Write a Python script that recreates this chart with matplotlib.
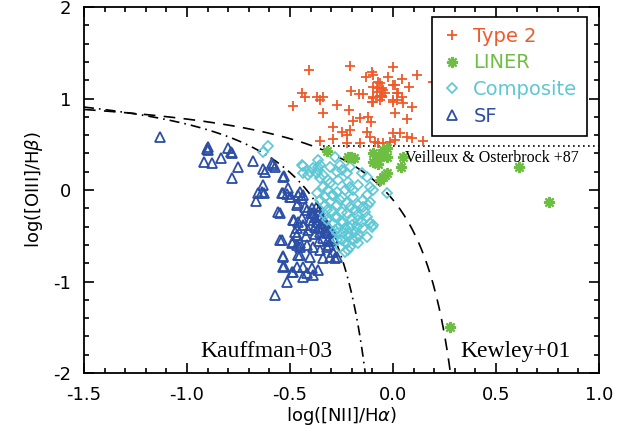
import numpy as np
import matplotlib
matplotlib.use("Agg")
import matplotlib.pyplot as plt
from matplotlib.ticker import MultipleLocator, FormatStrFormatter
from matplotlib.lines import Line2D

# ---------------- data ----------------
type2_x = [-0.408, -0.209, 0.000, -0.102, -0.131, -0.097, 0.117, -0.024, 0.044, 0.194,
           -0.063, 0.000, 0.078, -0.078, -0.049, -0.442, -0.427, -0.485, -0.369, -0.340,
           -0.354, -0.204, -0.165, -0.146, -0.097, -0.053, 0.024, 0.044, 0.019, -0.097,
           -0.063, 0.000, 0.049, 0.092, -0.272, -0.340, -0.214, 0.010, -0.160, -0.121,
           -0.107, -0.194, 0.068, -0.291, -0.248, -0.209, -0.223, -0.126, 0.000, 0.034,
           0.068, 0.092, 0.010, -0.015, -0.354, -0.291, -0.112, -0.087, -0.073, -0.049,
           0.146, -0.223, -0.160, -0.097, -0.073, -0.053, -0.078, -0.039, -0.063, -0.097,
           0.010, 0.019, 0.000, -0.053, -0.102]
type2_y = [1.311, 1.355, 1.344, 1.290, 1.235, 1.257, 1.257, 1.235, 1.213, 1.180,
           1.169, 1.148, 1.126, 1.115, 1.093, 1.060, 1.016, 0.918, 1.016, 1.016,
           0.984, 1.082, 1.049, 1.049, 1.016, 1.016, 1.060, 1.016, 0.984, 0.962,
           0.984, 0.962, 0.951, 0.907, 0.929, 0.842, 0.874, 0.842, 0.787, 0.798,
           0.743, 0.754, 0.776, 0.689, 0.634, 0.656, 0.601, 0.634, 0.623, 0.623,
           0.579, 0.568, 0.546, 0.525, 0.536, 0.557, 0.579, 0.525, 0.514, 0.514,
           0.536, 0.510, 0.514, 1.126, 1.180, 1.115, 1.071, 1.060, 1.027, 1.005,
           1.148, 1.060, 0.984, 1.027, 0.962]

liner_x = [-0.320, -0.218, -0.204, -0.189, -0.097, -0.049, -0.029, -0.063, -0.083, -0.029,
           -0.097, -0.073, 0.049, 0.039, -0.029, -0.049, -0.063, -0.039, 0.612, 0.757, 0.277]
liner_y = [0.426, 0.361, 0.361, 0.350, 0.404, 0.437, 0.459, 0.361, 0.328, 0.361,
           0.306, 0.284, 0.361, 0.251, 0.186, 0.142, 0.109, 0.164, 0.251, -0.131, -1.497]

comp_x = [-0.631, -0.607, -0.282, -0.442, -0.364, -0.354, -0.437, -0.388, -0.364, -0.369,
          -0.340, -0.354, -0.413, -0.272, -0.248, -0.223, -0.150, -0.126, -0.218, -0.209,
          -0.233, -0.194, -0.170, -0.306, -0.340, -0.316, -0.369, -0.330, -0.291, -0.272,
          -0.257, -0.306, -0.272, -0.112, -0.097, -0.126, -0.146, -0.112, -0.121, -0.029,
          -0.209, -0.184, -0.223, -0.175, -0.199, -0.170, -0.243, -0.136, -0.126, -0.150,
          -0.112, -0.102, -0.126, -0.354, -0.330, -0.320, -0.296, -0.330, -0.320, -0.272,
          -0.248, -0.267, -0.233, -0.272, -0.243, -0.209, -0.184, -0.218, -0.175, -0.248,
          -0.223, -0.257, -0.209, -0.233, -0.218, -0.194, -0.170, -0.291, -0.282, -0.272,
          -0.316, -0.267, -0.296, -0.248, -0.194, -0.170, -0.146, -0.223, -0.248, -0.282,
          -0.199, -0.175, -0.146, -0.218, -0.170, -0.097, -0.403, -0.437, -0.364, -0.306,
          -0.257, -0.209]
comp_y = [0.415, 0.481, 0.361, 0.273, 0.251, 0.273, 0.262, 0.240, 0.219, 0.186,
          0.164, 0.131, 0.164, 0.197, 0.219, 0.186, 0.186, 0.142, 0.087, 0.033,
          0.000, 0.000, 0.055, 0.077, 0.033, 0.000, -0.033, -0.077, -0.055, -0.022,
          -0.109, -0.131, -0.164, 0.033, 0.000, -0.055, -0.109, -0.131, -0.164, -0.033,
          -0.186, -0.219, -0.251, -0.273, -0.328, -0.328, -0.350, -0.240, -0.295, -0.350,
          -0.361, -0.404, -0.514, -0.109, -0.164, -0.219, -0.240, -0.273, -0.328, -0.295,
          -0.361, -0.415, -0.415, -0.470, -0.470, -0.415, -0.459, -0.514, -0.525, -0.546,
          -0.579, -0.623, -0.623, -0.678, -0.656, -0.546, -0.579, -0.361, -0.437, -0.546,
          0.109, 0.109, -0.055, -0.077, -0.077, -0.164, -0.186, -0.142, -0.240, -0.295,
          -0.383, -0.404, -0.415, -0.470, -0.492, -0.383, 0.197, 0.186, 0.328, 0.251,
          0.273, 0.251]

sf_x = [-1.131, -0.898, -0.898, -0.903, -0.801, -0.786, -0.782, -0.835, -0.917, -0.879,
        -0.752, -0.782, -0.680, -0.631, -0.621, -0.587, -0.573, -0.529, -0.631, -0.636,
        -0.655, -0.665, -0.626, -0.539, -0.515, -0.495, -0.510, -0.461, -0.466, -0.549,
        -0.481, -0.461, -0.476, -0.466, -0.490, -0.466, -0.451, -0.539, -0.534, -0.461,
        -0.529, -0.490, -0.466, -0.515, -0.573, -0.583, -0.534, -0.534, -0.500, -0.451,
        -0.437, -0.442, -0.558, -0.461, -0.427, -0.417, -0.393, -0.485, -0.442, -0.466,
        -0.437, -0.388, -0.364, -0.403, -0.369, -0.340, -0.379, -0.345, -0.320, -0.413,
        -0.354, -0.320, -0.296, -0.291, -0.316, -0.549, -0.485, -0.451, -0.417, -0.388,
        -0.354, -0.320, -0.291, -0.272, -0.534, -0.451, -0.403, -0.340, -0.306, -0.282,
        -0.534, -0.437, -0.393, -0.364, -0.485, -0.417, -0.388, -0.437, -0.360, -0.350,
        -0.330, -0.380, -0.400, -0.360, -0.330, -0.310, -0.380, -0.340, -0.300, -0.360,
        -0.420, -0.310, -0.400, -0.370]
sf_y = [0.579, 0.470, 0.437, 0.448, 0.459, 0.415, 0.404, 0.350, 0.306, 0.295,
        0.251, 0.131, 0.317, 0.230, 0.197, 0.295, 0.251, 0.153, 0.055, -0.022,
        -0.033, -0.120, -0.033, -0.033, -0.044, -0.077, 0.022, -0.055, -0.164, -0.251,
        -0.328, -0.350, -0.459, -0.492, -0.579, -0.601, -0.623, -0.546, -0.721, -0.710,
        -0.831, -0.896, -0.842, -1.005, -1.148, 0.273, 0.142, -0.033, -0.077, -0.022,
        -0.055, -0.087, -0.240, -0.142, -0.186, -0.219, -0.197, -0.328, -0.306, -0.415,
        -0.383, -0.251, -0.273, -0.328, -0.350, -0.328, -0.404, -0.404, -0.383, -0.437,
        -0.459, -0.470, -0.459, -0.525, -0.546, -0.546, -0.568, -0.579, -0.601, -0.623,
        -0.656, -0.623, -0.678, -0.732, -0.732, -0.710, -0.732, -0.743, -0.732, -0.743,
        -0.842, -0.842, -0.852, -0.874, -0.896, -0.907, -0.929, -0.951, -0.220, -0.300,
        -0.360, -0.300, -0.380, -0.420, -0.440, -0.420, -0.480, -0.520, -0.560, -0.560,
        -0.500, -0.600, -0.250, -0.170]

labels = ["Type 2", "LINER", "Composite", "SF"]
colors = ["#F05A2A", "#6EBE44", "#5CC8D6", "#2B4EA6"]

# ---------------- figure ----------------
fig = plt.figure(figsize=(6.17, 4.36), dpi=100)
ax = fig.add_axes([84/617, 1-373/436, 515/617, 366/436])

# demarcation curves
xk = np.linspace(-1.5, 0.0, 400)
yk = 0.61/(xk-0.05)+1.3
mk = yk >= -2.1
ax.plot(xk[mk], yk[mk], color="black", lw=1.2, ls=(0, (6, 3, 1, 3)))
xw = np.linspace(-1.5, 0.4, 400)
yw = 0.61/(xw-0.47)+1.19
mw = yw >= -2.1
ax.plot(xw[mw], yw[mw], color="black", lw=1.2, ls=(0, (7, 5)))
ax.plot([-0.34, 1.0], [np.log10(3), np.log10(3)], color="black", lw=1.2, ls=(0, (1, 2)))

# points
ax.plot(sf_x, sf_y, ls="none", marker="^", ms=7.5, mfc="none", mec=colors[3], mew=1.3)
ax.plot(comp_x, comp_y, ls="none", marker="D", ms=5.2, mfc="none", mec=colors[2], mew=1.2)
ax.plot(type2_x, type2_y, ls="none", marker="+", ms=7.5, mec=colors[0], mew=1.3)
ax.plot(liner_x, liner_y, ls="none", marker=(8, 2, 0), ms=8, mec=colors[1], mew=1.6)

ax.set_xlim(-1.5, 1.0)
ax.set_ylim(-2, 2)
ax.xaxis.set_major_locator(MultipleLocator(0.5))
ax.xaxis.set_minor_locator(MultipleLocator(0.1))
ax.yaxis.set_major_locator(MultipleLocator(1))
ax.yaxis.set_minor_locator(MultipleLocator(0.2))
ax.xaxis.set_major_formatter(FormatStrFormatter("%.1f"))
ax.yaxis.set_major_formatter(FormatStrFormatter("%d"))
ax.tick_params(which="both", direction="in", top=True, right=True, width=1.2)
ax.tick_params(which="major", length=7, labelsize=13, pad=9)
ax.tick_params(which="minor", length=3.5)
for s in ax.spines.values():
    s.set_linewidth(1.3)

ax.set_xlabel(r"log([NII]/H$\alpha$)", fontsize=13, labelpad=1)
ax.set_ylabel(r"log([OIII]/H$\beta$)", fontsize=13, labelpad=6)

serif = ["Liberation Serif", "DejaVu Serif"]
ax.text(-0.937, -1.77, "Kauffman+03", family=serif, fontsize=17, va="center", ha="left")
ax.text(0.325, -1.77, "Kewley+01", family=serif, fontsize=17, va="center", ha="left")
ax.text(0.058, 0.35, "Veilleux & Osterbrock +87", family=serif, fontsize=11.5,
        va="center", ha="left")

handles = [
    Line2D([], [], ls="none", marker="+", ms=7.5, mec=colors[0], mew=1.3),
    Line2D([], [], ls="none", marker=(8, 2, 0), ms=8, mec=colors[1], mew=1.6),
    Line2D([], [], ls="none", marker="D", ms=5, mfc="none", mec=colors[2], mew=1.2),
    Line2D([], [], ls="none", marker="^", ms=7, mfc="none", mec=colors[3], mew=1.3),
]
leg = ax.legend(handles, labels, loc="upper right", bbox_to_anchor=(0.977, 0.973),
                borderaxespad=0, fontsize=14, frameon=True, fancybox=False,
                edgecolor="black", framealpha=1, handlelength=1.0, handletextpad=0.6,
                labelspacing=0.4, borderpad=0.5)
leg.get_frame().set_linewidth(1.2)
for t, c in zip(leg.get_texts(), colors):
    t.set_color(c)

fig.savefig("out.png", dpi=100)
